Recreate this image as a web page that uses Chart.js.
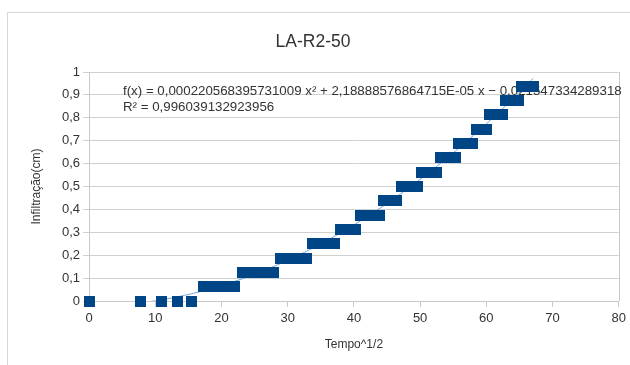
<!DOCTYPE html>
<html>
<head>
<meta charset="utf-8">
<script src="https://cdn.jsdelivr.net/npm/chart.js@4"></script>
<style>
  html, body { margin: 0; padding: 0; background: #ffffff; }
  #wrap { width: 630px; height: 365px; position: relative; }
  canvas { display: block; }
</style>
</head>
<body>
<div id="wrap"><canvas id="c" width="630" height="365"></canvas></div>
<script>
// ---- data ----
const chartTitle = 'LA-R2-50';
const xAxisTitle = 'Tempo^1/2';
const yAxisTitle = 'Infiltração(cm)';

const tempoRaiz = [
  0, 7.746, 10.954, 13.416, 15.492,
  17.321, 18.974, 20.494, 21.909,
  23.238, 24.495, 25.690, 26.833, 27.928,
  28.983, 30.000, 30.984, 31.937, 32.863,
  33.764, 34.641, 35.496, 36.332, 37.148,
  37.947, 38.730, 39.497, 40.249,
  40.988, 41.713, 42.426, 43.128, 43.818,
  44.497, 45.166, 45.826, 46.476,
  47.117, 47.749, 48.374, 48.990, 49.598,
  50.200, 50.794, 51.381, 51.962, 52.536,
  53.104, 53.666, 54.222, 54.772, 55.317,
  55.857, 56.391, 56.921, 57.446, 57.966,
  58.481, 58.992, 59.498, 60.000,
  60.498, 60.992, 61.482, 61.968, 62.450,
  62.929, 63.403, 63.875, 64.343, 64.807,
  65.269, 65.727, 66.182, 66.633, 67.082
];
const infiltracao = [
  0, 0, 0, 0, 0,
  0.0625, 0.0625, 0.0625, 0.0625,
  0.125, 0.125, 0.125, 0.125, 0.125,
  0.1875, 0.1875, 0.1875, 0.1875, 0.1875,
  0.25, 0.25, 0.25, 0.25, 0.25,
  0.3125, 0.3125, 0.3125, 0.3125,
  0.375, 0.375, 0.375, 0.375, 0.375,
  0.4375, 0.4375, 0.4375, 0.4375,
  0.5, 0.5, 0.5, 0.5, 0.5,
  0.5625, 0.5625, 0.5625, 0.5625, 0.5625,
  0.625, 0.625, 0.625, 0.625, 0.625,
  0.6875, 0.6875, 0.6875, 0.6875, 0.6875,
  0.75, 0.75, 0.75, 0.75,
  0.8125, 0.8125, 0.8125, 0.8125, 0.8125,
  0.875, 0.875, 0.875, 0.875, 0.875,
  0.9375, 0.9375, 0.9375, 0.9375, 0.9375
];

// trend line coefficients as printed in the reference
const trendA = 0.000220568395731009;
const trendB = 2.18888576864715E-05;
const trendC = -0.021547334289318;
const trendText = 'f(x) = 0,000220568395731009 x² + 2,18888576864715E-05 x − 0,021547334289318';
const r2Text = 'R² = 0,996039132923956';

const xTickLabels = ['0', '10', '20', '30', '40', '50', '60', '70', '80'];
const yTickLabels = ['0', '0,1', '0,2', '0,3', '0,4', '0,5', '0,6', '0,7', '0,8', '0,9', '1'];

// ---- build library structures ----
const points = tempoRaiz.map((x, i) => ({ x: x, y: infiltracao[i] }));
const xMinData = Math.min(...tempoRaiz), xMaxData = Math.max(...tempoRaiz);
const trendPts = [];
for (let k = 0; k <= 200; k++) {
  const x = xMinData + (xMaxData - xMinData) * k / 200;
  trendPts.push({ x: x, y: trendA * x * x + trendB * x + trendC });
}

const FONT = '"Liberation Sans", Arial, sans-serif';
const TEXT = '#333333';
const MARK_SIDE = 11;

const decor = {
  id: 'decor',
  afterDatasetsUpdate(chart) {
    // snap square markers to the pixel grid so overlapping squares merge cleanly
    const meta = chart.getDatasetMeta(0);
    meta.data.forEach(el => {
      el.x = Math.round(el.x - 0.5) + 0.5;
      el.y = Math.round(el.y - 0.5) + 0.5;
    });
  },
  beforeDraw(chart) {
    const ctx = chart.ctx;
    ctx.save();
    ctx.fillStyle = '#ffffff';
    ctx.fillRect(0, 0, chart.width, chart.height);
    ctx.strokeStyle = '#d6d6d6';
    ctx.lineWidth = 1;
    ctx.strokeRect(7.5, 12.5, 700, 400);
    ctx.restore();
  },
  beforeDatasetsDraw(chart) {
    const ctx = chart.ctx;
    const a = chart.chartArea;
    ctx.save();
    // plot right border
    ctx.strokeStyle = '#c8c8c8';
    ctx.lineWidth = 1;
    ctx.beginPath();
    ctx.moveTo(Math.round(a.right) + 0.5, a.top);
    ctx.lineTo(Math.round(a.right) + 0.5, a.bottom);
    ctx.stroke();
    // title
    ctx.fillStyle = TEXT;
    ctx.textAlign = 'center';
    ctx.textBaseline = 'middle';
    ctx.font = '17.5px ' + FONT;
    ctx.fillText(chartTitle, 313, 42);
    // axis titles
    ctx.font = '12px ' + FONT;
    ctx.fillText(xAxisTitle, (a.left + a.right) / 2, 345);
    ctx.save();
    ctx.translate(37, (a.top + a.bottom) / 2);
    ctx.rotate(-Math.PI / 2);
    ctx.fillText(yAxisTitle, 0, 0);
    ctx.restore();
    // equation
    ctx.textAlign = 'left';
    ctx.font = '13.3px ' + FONT;
    ctx.fillText(trendText, 123, 91);
    ctx.fillText(r2Text, 123, 107);
    ctx.restore();
  }
};

new Chart(document.getElementById('c'), {
  type: 'scatter',
  data: {
    datasets: [
      {
        label: 'Infiltração',
        data: points,
        pointStyle: 'rect',
        pointRadius: (MARK_SIDE / 2) / Math.SQRT1_2,
        pointHoverRadius: (MARK_SIDE / 2) / Math.SQRT1_2,
        backgroundColor: '#004586',
        borderColor: '#004586',
        borderWidth: 0,
        showLine: false,
        clip: false,
        order: 1
      },
      {
        label: 'trend',
        data: trendPts,
        showLine: true,
        pointRadius: 0,
        borderColor: '#6aa0d8',
        borderWidth: 1,
        fill: false,
        tension: 0,
        clip: 0,
        order: 2
      }
    ]
  },
  options: {
    responsive: false,
    animation: false,
    events: [],
    layout: { padding: { top: 72, right: 10, left: 0, bottom: 0 } },
    plugins: {
      legend: { display: false },
      title: { display: false },
      tooltip: { enabled: false }
    },
    scales: {
      x: {
        type: 'linear',
        min: 0, max: 80,
        afterFit(scale) { scale.height = 64; },
        ticks: {
          stepSize: 10,
          color: TEXT,
          font: { family: FONT, size: 13 },
          padding: 4,
          maxRotation: 0,
          callback: (v, i) => xTickLabels[i]
        },
        grid: {
          drawOnChartArea: false,
          drawTicks: true,
          tickLength: 6,
          color: '#c8c8c8'
        },
        border: { color: '#c8c8c8' }
      },
      y: {
        type: 'linear',
        min: 0, max: 1,
        afterFit(scale) { scale.width = 89; },
        ticks: {
          stepSize: 0.1,
          color: TEXT,
          font: { family: FONT, size: 13 },
          padding: 3,
          callback: (v, i) => yTickLabels[i]
        },
        grid: {
          drawOnChartArea: true,
          drawTicks: true,
          tickLength: 6,
          color: '#d0d0d0'
        },
        border: { color: '#c8c8c8' }
      }
    }
  },
  plugins: [decor]
});
</script>
</body>
</html>
